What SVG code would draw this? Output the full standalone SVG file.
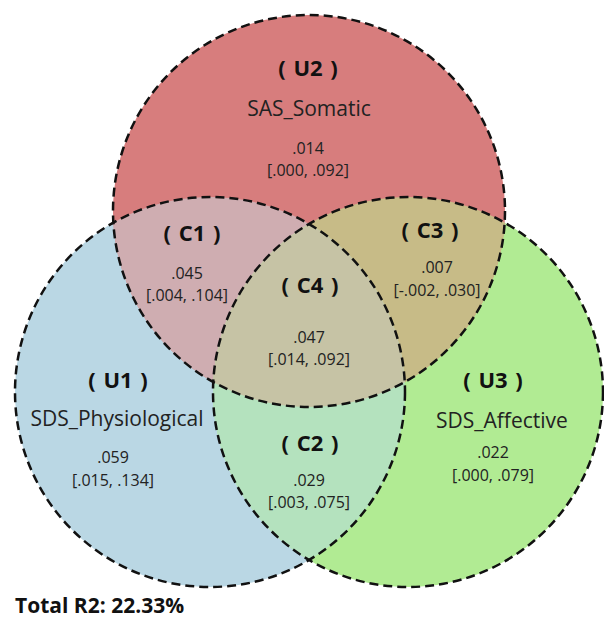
<svg xmlns="http://www.w3.org/2000/svg" width="604" height="620" viewBox="0 0 604 620">
<style>
.lbl{font-family:"Open Sans","Liberation Sans",sans-serif;font-weight:bold;font-size:22px;fill:#111;text-anchor:middle;word-spacing:2px}
.name{font-family:"Open Sans","Liberation Sans",sans-serif;font-size:21px;fill:#222;text-anchor:middle}
.val{font-family:"Open Sans","Liberation Sans",sans-serif;font-size:16px;fill:#222;text-anchor:middle}
.edge{fill:none;stroke:#111;stroke-width:2.5;stroke-dasharray:9 5}
</style>
<defs>
<clipPath id="cU1"><circle cx="210" cy="392" r="195"/></clipPath>
<clipPath id="cU2"><circle cx="309" cy="211" r="196"/></clipPath>
<clipPath id="cU3"><circle cx="408" cy="392" r="195"/></clipPath>
</defs>
<rect width="604" height="620" fill="#fff"/>
<g id="fills">
<circle cx="210" cy="392" r="195" fill="#BAD7E4"/>
<circle cx="408" cy="392" r="195" fill="#B1EB93"/>
<circle cx="309" cy="211" r="196" fill="#D77D7D"/>
<g clip-path="url(#cU2)"><circle cx="210" cy="392" r="195" fill="#CFADB1"/></g>
<g clip-path="url(#cU2)"><circle cx="408" cy="392" r="195" fill="#C7BB87"/></g>
<g clip-path="url(#cU1)"><circle cx="408" cy="392" r="195" fill="#B4E2BE"/></g>
<g clip-path="url(#cU1)"><g clip-path="url(#cU2)"><circle cx="408" cy="392" r="195" fill="#C6C3A5"/></g></g>
</g>
<g id="connectors">
<circle class="edge" cx="309" cy="211" r="196"/>
<circle class="edge" cx="210" cy="392" r="195"/>
<circle class="edge" cx="408" cy="392" r="195"/>
</g>
<g id="U2">
<text class="lbl" x="308" y="76">( U2 )</text>
<text class="name" x="309" y="116">SAS_Somatic</text>
<text class="val" x="308" y="154">.014</text>
<text class="val" x="308" y="176">[.000, .092]</text>
</g>
<g id="C1">
<text class="lbl" x="192" y="241">( C1 )</text>
<text class="val" x="187" y="279">.045</text>
<text class="val" x="187" y="301">[.004, .104]</text>
</g>
<g id="C3">
<text class="lbl" x="430" y="238">( C3 )</text>
<text class="val" x="437" y="273">.007</text>
<text class="val" x="437" y="296">[-.002, .030]</text>
</g>
<g id="C4">
<text class="lbl" x="310" y="293">( C4 )</text>
<text class="val" x="309" y="343">.047</text>
<text class="val" x="309" y="365">[.014, .092]</text>
</g>
<g id="U1">
<text class="lbl" x="118" y="388">( U1 )</text>
<text class="name" x="117" y="426">SDS_Physiological</text>
<text class="val" x="113" y="463">.059</text>
<text class="val" x="113" y="486">[.015, .134]</text>
</g>
<g id="C2">
<text class="lbl" x="310" y="451">( C2 )</text>
<text class="val" x="309" y="486">.029</text>
<text class="val" x="309" y="508">[.003, .075]</text>
</g>
<g id="U3">
<text class="lbl" x="493" y="388">( U3 )</text>
<text class="name" x="502" y="428">SDS_Affective</text>
<text class="val" x="493" y="458">.022</text>
<text class="val" x="493" y="481">[.000, .079]</text>
</g>
<text x="15" y="613" font-family="Open Sans, Liberation Sans, sans-serif" font-weight="bold" font-size="21" fill="#111">Total R2: 22.33%</text>
</svg>
